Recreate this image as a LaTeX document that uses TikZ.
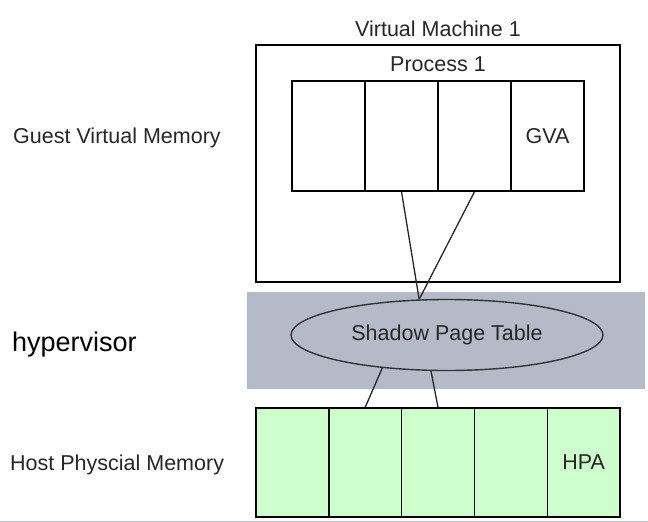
\documentclass[tikz,border=0pt]{standalone}
\usepackage{fontspec}
\setmainfont{Liberation Sans}
\usepackage{tikz}
\usetikzlibrary{shapes.geometric, positioning}

\definecolor{bandgray}{RGB}{180,186,200}
\definecolor{cellgreen}{RGB}{204,255,204}
\definecolor{edgeline}{RGB}{190,198,210}

\tikzset{
	lbl/.style={font=\fontsize{21.5}{24}\selectfont, text=black!85, inner sep=0pt},
	cell/.style={draw, line width=1.4pt, minimum height=110pt, inner sep=0pt, lbl},
	gvacell/.style={cell, minimum width=73pt},
	hpacell/.style={cell, minimum width=72.8pt, minimum height=109pt, fill=cellgreen},
	link/.style={line width=1.3pt, draw=black!85}
}

\begin{document}
\begin{tikzpicture}[x=1pt, y=-1pt]
			\useasboundingbox (0, 0) rectangle (648, 522);
			
			\coordinate (vmtl) at (256, 45);
			\coordinate (vmbr) at (620, 282);
			\coordinate (bandtl) at (247, 292);
			\coordinate (bandbr) at (645, 389);
			\coordinate (baseleft) at (0, 521.5);
			\coordinate (baseright) at (648, 521.5);
			
			\fill[bandgray] (bandtl) rectangle (bandbr);
			\draw[line width=1.4pt] (vmtl) rectangle (vmbr);
			\draw[line width=1pt, edgeline] (baseleft) -- (baseright);
			
			\node[lbl] (vmlabel) at (438, 29) {Virtual Machine 1};
			\node[lbl] (proclabel) at (438, 64) {Process 1};
			
			\node[gvacell] (g1) at (328.5, 136) {};
			\node[gvacell] (g2) at (401.5, 136) {};
			\node[gvacell] (g3) at (474.5, 136) {};
			\node[gvacell] (g4) at (547.5, 136) {GVA};
			
			\node[ellipse, draw=black!80, line width=1.4pt, fill=bandgray, minimum width=312pt, minimum height=71pt, lbl] (spt) at (447, 335) {Shadow Page Table};
			
			\node[hpacell] (h1) at (292.4, 462.5) {};
			\node[hpacell] (h2) at (365.2, 462.5) {};
			\node[hpacell] (h3) at (438, 462.5) {};
			\node[hpacell] (h4) at (510.8, 462.5) {};
			\node[hpacell] (h5) at (583.6, 462.5) {HPA};
			
			\node[lbl, anchor=west] (gvmlabel) at (13, 138) {Guest Virtual Memory};
			\node[lbl, anchor=west, text=black, font=\fontsize{27}{30}\selectfont] (hvlabel) at (12, 345) {hypervisor};
			\node[lbl, anchor=west] (hpmlabel) at (10, 464.5) {Host Physcial Memory};
			
			\draw[link] (g2.south) -- (spt.128);
			\draw[link] (g3.south) -- (spt.128);
			\draw[link] (spt.207) -- (h2.north);
			\draw[link] (spt.246) -- (h3.north);
			
		\end{tikzpicture}
\end{document}
